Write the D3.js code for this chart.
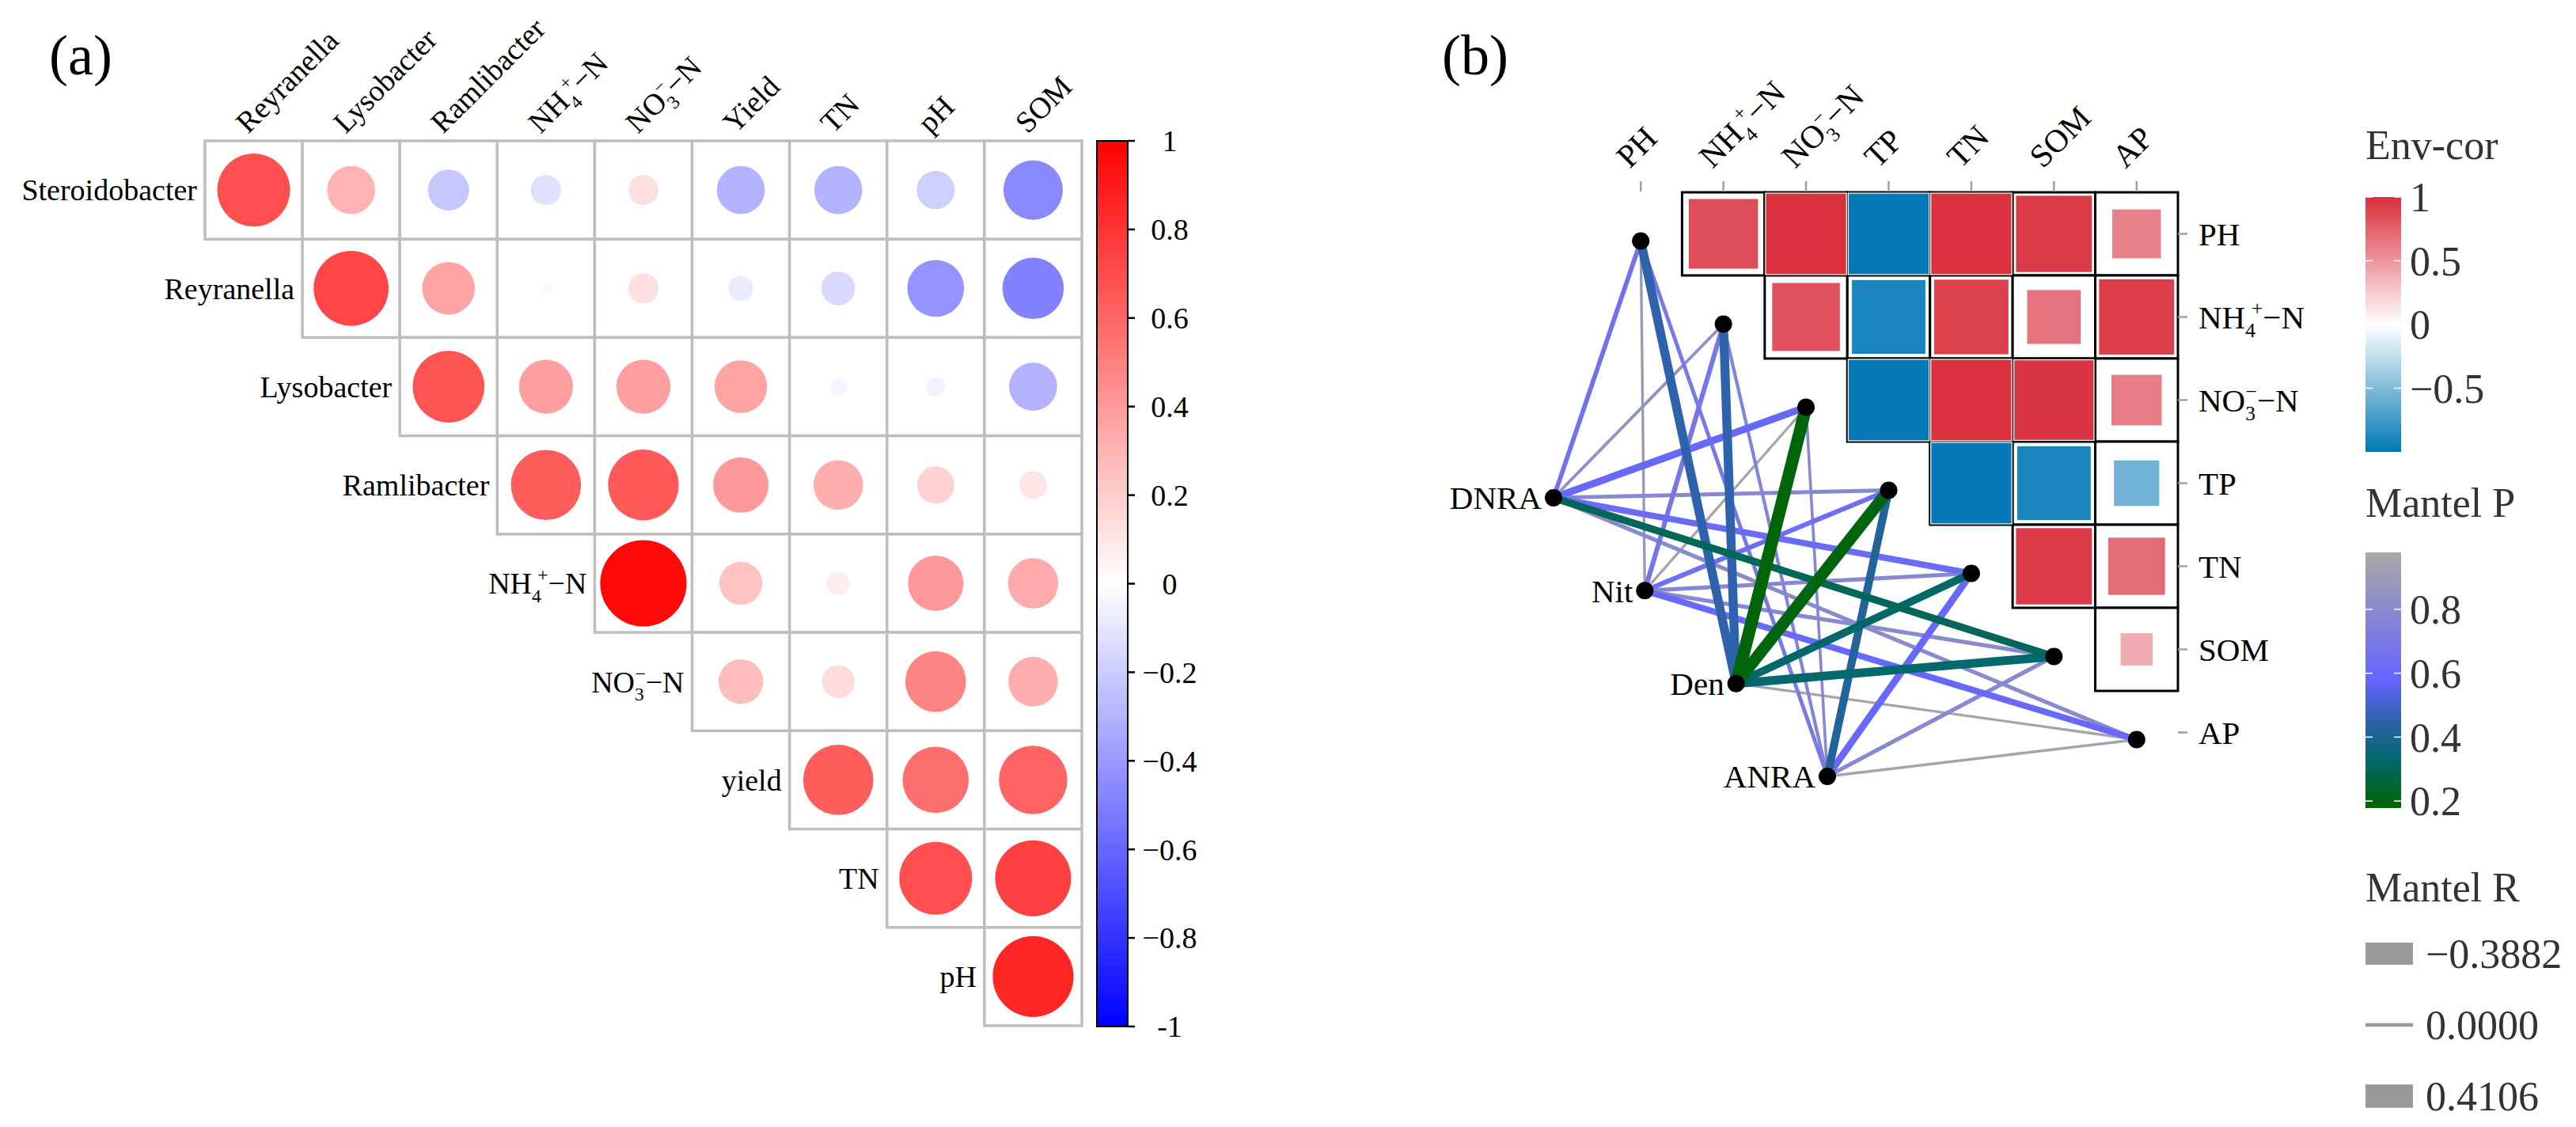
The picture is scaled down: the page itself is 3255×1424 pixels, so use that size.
<!DOCTYPE html>
<html>
<head>
<meta charset="utf-8">
<script src="https://cdn.jsdelivr.net/npm/d3@7/dist/d3.min.js"></script>
<style>
  body { margin: 0; background: #fff; }
  svg, text { font-family: "Liberation Serif", "DejaVu Serif", serif; }
</style>
</head>
<body>
<div id="chart"></div>
<script>
// ---- panel (a): genera vs soil properties ----
const colsA = ["Reyranella", "Lysobacter", "Ramlibacter", "NH4+-N", "NO3--N", "Yield", "TN", "pH", "SOM"];
const rowsA = ["Steroidobacter", "Reyranella", "Lysobacter", "Ramlibacter", "NH4+-N", "NO3--N", "yield", "TN", "pH"];
// upper triangle, row i holds columns i..8
const corrA = [
  [0.69, 0.30, -0.22, -0.12, 0.12, -0.30, -0.30, -0.19, -0.46],
  [0.73, 0.36, 0.02, 0.12, -0.08, -0.15, -0.42, -0.49],
  [0.67, 0.38, 0.38, 0.36, -0.04, -0.05, -0.30],
  [0.64, 0.65, 0.40, 0.32, 0.18, 0.10],
  [0.97, 0.24, 0.07, 0.40, 0.33],
  [0.26, 0.14, 0.48, 0.32],
  [0.64, 0.57, 0.61],
  [0.69, 0.75],
  [0.85]
];
const barTicksA = [-1, -0.8, -0.6, -0.4, -0.2, 0, 0.2, 0.4, 0.6, 0.8, 1];

// ---- panel (b): env correlations + mantel links ----
const envVars = ["PH", "NH4+-N", "NO3--N", "TP", "TN", "SOM", "AP"];
// upper triangle without diagonal, row i holds columns i+1..6
const envCor = [
  [0.85, 0.98, -0.98, 0.98, 0.93, 0.60],
  [0.83, -0.90, 0.91, 0.66, 0.92],
  [-0.98, 0.98, 0.97, 0.62],
  [-0.98, -0.90, -0.56],
  [0.93, 0.70],
  [0.40]
];
const processes = ["DNRA", "Nit", "Den", "ANRA"];
const mantelR = [
  [0.09, 0.03, 0.20, 0.06, 0.16, 0.20, 0.07],
  [0.01, 0.10, 0.01, 0.10, 0.07, 0.07, 0.16],
  [0.27, 0.27, 0.4106, -0.3882, 0.22, 0.26, 0.01],
  [0.06, 0.04, 0.02, 0.23, 0.19, 0.07, 0.01]
];
const mantelP = [
  [0.66, 0.84, 0.60, 0.78, 0.62, 0.30, 0.80],
  [0.88, 0.68, 0.95, 0.64, 0.78, 0.80, 0.60],
  [0.45, 0.45, 0.19, 0.20, 0.32, 0.33, 0.95],
  [0.70, 0.76, 0.78, 0.42, 0.60, 0.78, 0.95]
];
const envTicks = [1, 0.5, 0, -0.5];
const pTicks = [0.8, 0.6, 0.4, 0.2];
const rKeys = [-0.3882, 0, 0.4106];

const serif = "'Liberation Serif', 'DejaVu Serif', serif";
const svg = d3.select("#chart").append("svg")
  .attr("width", 3255).attr("height", 1424)
  .attr("font-family", serif);
const defs = svg.append("defs");

// label with sub/superscript for the nitrogen names
function label(txt, name, fs) {
  if (name === "NH4+-N" || name === "NO3--N") {
    let nh = name.startsWith("NH");
    txt.append("tspan").text(nh ? "NH" : "NO");
    txt.append("tspan").attr("font-size", fs * 0.62).attr("dy", fs * 0.28).text(nh ? "4" : "3");
    txt.append("tspan").attr("font-size", fs * 0.62).attr("dx", nh ? -fs * 0.12 : -fs * 0.3).attr("dy", -fs * 0.7).text(nh ? "+" : "\u2212");
    txt.append("tspan").attr("dy", fs * 0.42).text("\u2212N");
  } else {
    txt.text(name);
  }
}

// ================= panel (a) =================
let xA = d3.scaleBand().domain(d3.range(9)).range([259, 1367]);
let yA = d3.scaleBand().domain(d3.range(9)).range([178, 1296]);
let colA = d3.scaleLinear().domain([-1, 0, 1]).range(["#0000FF", "#FFFFFF", "#FF0000"]);
let fsA = 38;

svg.append("text").attr("x", 62).attr("y", 94).attr("font-size", 72).text("(a)");

let cellsA = [];
corrA.forEach((row, i) => row.forEach((v, k) => cellsA.push({ r: i, c: i + k, v: v })));

let gA = svg.append("g");
gA.selectAll(".cellA").data(cellsA).enter().append("rect")
  .attr("x", d => xA(d.c))
  .attr("y", d => yA(d.r))
  .attr("width", xA.bandwidth())
  .attr("height", yA.bandwidth())
  .attr("fill", "white")
  .attr("stroke", "#BEBEBE")
  .attr("stroke-width", 3.5);

gA.selectAll(".dotA").data(cellsA).enter().append("circle")
  .attr("cx", d => xA(d.c) + xA.bandwidth() / 2)
  .attr("cy", d => yA(d.r) + yA.bandwidth() / 2)
  .attr("r", d => 0.45 * Math.sqrt(Math.abs(d.v)) * xA.bandwidth())
  .attr("fill", d => colA(d.v));

colsA.forEach((name, j) => {
  let t = svg.append("text")
    .attr("transform", `translate(${xA(j) + xA.bandwidth() / 2 - 7},${yA(0) - 8}) rotate(-45)`)
    .attr("font-size", fsA);
  label(t, name, fsA);
});

rowsA.forEach((name, i) => {
  let t = svg.append("text")
    .attr("x", xA(i) - 10)
    .attr("y", yA(i) + yA.bandwidth() / 2)
    .attr("dy", "0.35em")
    .attr("text-anchor", "end")
    .attr("font-size", fsA);
  label(t, name, fsA);
});

// colour bar (a)
let gradA = defs.append("linearGradient").attr("id", "gradA").attr("x1", 0).attr("x2", 0).attr("y1", 0).attr("y2", 1);
d3.range(0, 1.0001, 0.05).forEach(o => gradA.append("stop").attr("offset", o).attr("stop-color", colA(1 - 2 * o)));
let barA = d3.scaleLinear().domain([-1, 1]).range([1297, 178]);
svg.append("rect").attr("x", 1386).attr("y", barA(1)).attr("width", 39).attr("height", barA(-1) - barA(1))
  .attr("fill", "url(#gradA)").attr("stroke", "black").attr("stroke-width", 2);
svg.selectAll(".tickA").data(barTicksA).enter().append("line")
  .attr("x1", 1425).attr("x2", 1434)
  .attr("y1", d => barA(d)).attr("y2", d => barA(d))
  .attr("stroke", "black").attr("stroke-width", 2.5);
svg.selectAll(".tickLabA").data(barTicksA).enter().append("text")
  .attr("x", 1478)
  .attr("y", d => barA(d))
  .attr("dy", "0.35em")
  .attr("text-anchor", "middle")
  .attr("font-size", fsA)
  .text(d => d === 0 ? "0" : Math.abs(d) === 1 ? String(d) : d3.format(".1f")(d));

// ================= panel (b) =================
let fsB = 41;
svg.append("text").attr("x", 1822).attr("y", 94).attr("font-size", 72).text("(b)");

let xB = d3.scaleBand().domain(d3.range(7)).range([2021, 2752]);
let yB = d3.scaleBand().domain(d3.range(7)).range([243, 978]);
let colB = d3.scaleLinear().domain([-1, 0, 1]).range(["#0077B5", "#FFFFFF", "#D92D3B"]);
let colP = d3.scaleLinear()
  .domain([0.178, 0.32, 0.45, 0.578, 0.978])
  .range(["#006400", "#006868", "#2E62AA", "#6464FF", "#A9A9A9"]);
let widthR = d3.scaleLinear().domain([0, 0.42]).range([3, 16]);

let cellsB = [];
envCor.forEach((row, i) => row.forEach((v, k) => cellsB.push({ r: i, c: i + 1 + k, v: v })));

let gB = svg.append("g");
gB.selectAll(".cellB").data(cellsB).enter().append("rect")
  .attr("x", d => xB(d.c))
  .attr("y", d => yB(d.r))
  .attr("width", xB.bandwidth())
  .attr("height", yB.bandwidth())
  .attr("fill", "white")
  .attr("stroke", "black")
  .attr("stroke-width", 3);

gB.selectAll(".sqB").data(cellsB).enter().append("rect")
  .attr("x", d => xB(d.c) + xB.bandwidth() * (1 - Math.abs(d.v)) / 2)
  .attr("y", d => yB(d.r) + yB.bandwidth() * (1 - Math.abs(d.v)) / 2)
  .attr("width", d => xB.bandwidth() * Math.abs(d.v))
  .attr("height", d => yB.bandwidth() * Math.abs(d.v))
  .attr("fill", d => colB(d.v))
  .attr("stroke", "white")
  .attr("stroke-width", 1.2);

// axis ticks and labels
envVars.forEach((name, j) => {
  let cx = xB(j) + xB.bandwidth() / 2;
  let cy = yB(j) + yB.bandwidth() / 2;
  svg.append("line").attr("x1", cx).attr("x2", cx).attr("y1", 229).attr("y2", 242)
    .attr("stroke", "#A0A0A0").attr("stroke-width", 2.5);
  let t = svg.append("text")
    .attr("transform", `translate(${cx - 14},${214}) rotate(-45)`)
    .attr("font-size", fsB);
  label(t, name, fsB);
  svg.append("line").attr("x1", 2752).attr("x2", 2764).attr("y1", cy).attr("y2", cy)
    .attr("stroke", "#A0A0A0").attr("stroke-width", 2.5);
  let r = svg.append("text")
    .attr("x", 2778).attr("y", cy).attr("dy", "0.35em")
    .attr("font-size", fsB);
  label(r, name, fsB);
});

// nodes
let envNodes = envVars.map((name, j) => ({
  x: xB(j) + xB.bandwidth() / 2,
  y: yB(j) + yB.bandwidth() / 2 + 9
}));
let px = d3.scalePoint().domain(processes).range([1963, 2309]);
let py = d3.scalePoint().domain(processes).range([629, 981]);

let links = [];
processes.forEach((p, i) => envVars.forEach((e, j) => {
  links.push({ p: p, e: j, r: mantelR[i][j], pv: mantelP[i][j] });
}));
links.sort((a, b) => b.pv - a.pv);

svg.selectAll(".link").data(links).enter().append("line")
  .attr("x1", d => px(d.p))
  .attr("y1", d => py(d.p))
  .attr("x2", d => envNodes[d.e].x)
  .attr("y2", d => envNodes[d.e].y)
  .attr("stroke", d => colP(d.pv))
  .attr("stroke-width", d => widthR(Math.abs(d.r)));

svg.selectAll(".envNode").data(envNodes).enter().append("circle")
  .attr("cx", d => d.x).attr("cy", d => d.y).attr("r", 11).attr("fill", "black");
svg.selectAll(".procNode").data(processes).enter().append("circle")
  .attr("cx", d => px(d)).attr("cy", d => py(d)).attr("r", 11).attr("fill", "black");
svg.selectAll(".procLab").data(processes).enter().append("text")
  .attr("x", d => px(d) - 15)
  .attr("y", d => py(d))
  .attr("dy", "0.35em")
  .attr("text-anchor", "end")
  .attr("font-size", fsB)
  .text(d => d);

// ---- legends (b) ----
let legX = 2989, legFs = 52, legCol = "#333333";

svg.append("text").attr("x", legX).attr("y", 201).attr("font-size", legFs).attr("fill", legCol).text("Env-cor");
let envBar = d3.scaleLinear().domain([-1, 1]).range([571, 249]);
let gradE = defs.append("linearGradient").attr("id", "gradE").attr("x1", 0).attr("x2", 0).attr("y1", 0).attr("y2", 1);
d3.range(0, 1.0001, 0.05).forEach(o => gradE.append("stop").attr("offset", o).attr("stop-color", colB(1 - 2 * o)));
svg.append("rect").attr("x", legX).attr("y", envBar(1)).attr("width", 45).attr("height", envBar(-1) - envBar(1))
  .attr("fill", "url(#gradE)");
envTicks.forEach(v => {
  [[legX, legX + 9], [legX + 36, legX + 45]].forEach(s => svg.append("line")
    .attr("x1", s[0]).attr("x2", s[1]).attr("y1", envBar(v)).attr("y2", envBar(v))
    .attr("stroke", "white").attr("stroke-width", 1.5));
  svg.append("text").attr("x", legX + 56).attr("y", envBar(v)).attr("dy", "0.35em")
    .attr("font-size", legFs).attr("fill", legCol)
    .text(v < 0 ? "\u2212" + Math.abs(v) : String(v));
});

svg.append("text").attr("x", legX).attr("y", 653).attr("font-size", legFs).attr("fill", legCol).text("Mantel P");
let pBar = d3.scaleLinear().domain([0.178, 0.978]).range([1021, 698]);
let gradP = defs.append("linearGradient").attr("id", "gradP").attr("x1", 0).attr("x2", 0).attr("y1", 0).attr("y2", 1);
d3.range(0, 1.0001, 0.05).forEach(o => gradP.append("stop").attr("offset", o).attr("stop-color", colP(0.978 - 0.8 * o)));
svg.append("rect").attr("x", legX).attr("y", pBar(0.978)).attr("width", 45).attr("height", pBar(0.178) - pBar(0.978))
  .attr("fill", "url(#gradP)");
pTicks.forEach(v => {
  [[legX, legX + 9], [legX + 36, legX + 45]].forEach(s => svg.append("line")
    .attr("x1", s[0]).attr("x2", s[1]).attr("y1", pBar(v)).attr("y2", pBar(v))
    .attr("stroke", "white").attr("stroke-width", 1.5));
  svg.append("text").attr("x", legX + 56).attr("y", pBar(v)).attr("dy", "0.35em")
    .attr("font-size", legFs).attr("fill", legCol).text(v.toFixed(1));
});

svg.append("text").attr("x", legX).attr("y", 1139).attr("font-size", legFs).attr("fill", legCol).text("Mantel R");
let keyY = d3.scalePoint().domain(rKeys).range([1205, 1385]);
let keyW = d3.scaleLinear().domain([0, 0.42]).range([4.5, 30]);
rKeys.forEach(v => {
  svg.append("line").attr("x1", legX).attr("x2", legX + 60).attr("y1", keyY(v)).attr("y2", keyY(v))
    .attr("stroke", "#999999").attr("stroke-width", keyW(Math.abs(v)));
  svg.append("text").attr("x", legX + 76).attr("y", keyY(v)).attr("dy", "0.35em")
    .attr("font-size", legFs).attr("fill", legCol)
    .text((v < 0 ? "\u2212" : "") + Math.abs(v).toFixed(4));
});
</script>
</body>
</html>
